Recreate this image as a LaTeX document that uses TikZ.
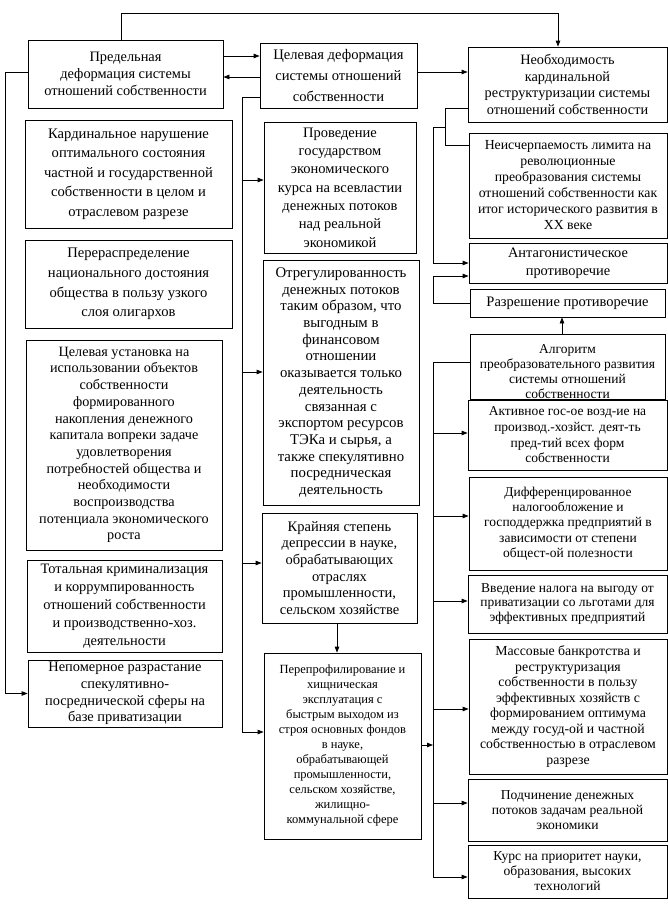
\documentclass[tikz,border=0pt]{standalone}
\usepackage{fontspec}
\setmainfont{Liberation Serif}
\usetikzlibrary{arrows,arrows.meta,calc,positioning}
\begin{document}
\begin{tikzpicture}[x=1pt,y=-1pt,line width=0.8pt,>={Triangle[length=6pt,width=4.5pt]},
    blk/.style={draw,align=center,inner sep=1pt},
    fs/.style 2 args={font=\fontsize{#1}{#2}\selectfont}]
                \useasboundingbox (0,0) rectangle (668,913);
                \node[blk,fs={14.4}{16.7},minimum width=195,minimum height=68] (pred) at (125.5,74) {Предельная\\деформация системы\\отношений собственности};
                \node[blk,fs={14.6}{21},minimum width=157,minimum height=65] (cel) at (338.5,75.5) {Целевая деформация\\системы отношений\\собственности};
                \node[blk,fs={14.3}{16.7},minimum width=199,minimum height=75] (neob) at (567.5,84.5) {Необходимость\\кардинальной\\реструктуризации системы\\отношений собственности};
                \node[blk,fs={14.6}{19.5},minimum width=207,minimum height=108] (kard) at (128.5,174) {Кардинальное нарушение\\оптимального состояния\\частной и государственной\\собственности в целом и\\отраслевом разрезе};
                \node[blk,fs={14.6}{19.8},minimum width=207,minimum height=88] (pereras) at (128.5,284) {Перераспределение\\национального достояния\\общества в пользу узкого\\слоя олигархов};
                \node[blk,fs={14.2}{16.7},minimum width=196,minimum height=210] (ust) at (124,445) {Целевая установка на\\использовании объектов\\собственности\\формированного\\накопления денежного\\капитала вопреки задаче\\удовлетворения\\потребностей общества и\\необходимости\\воспроизводства\\потенциала экономического\\роста};
                \node[blk,fs={14.4}{18},minimum width=195,minimum height=92] (krim) at (124.5,606) {Тотальная криминализация\\и коррумпированность\\отношений собственности\\и производственно-хоз.\\деятельности};
                \node[blk,fs={14.4}{16.7},minimum width=194,minimum height=67] (nepom) at (125,693.5) {Непомерное разрастание\\спекулятивно-\\посреднической сферы на\\базе приватизации};
                \node[blk,fs={14.5}{18.3},minimum width=152,minimum height=131] (provod) at (340,187.5) {Проведение\\государством\\экономического\\курса на всевластии\\денежных потоков\\над реальной\\экономикой};
                \node[blk,fs={14.8}{16.7},minimum width=156,minimum height=245] (otreg) at (341,382.5) {Отрегулированность\\денежных потоков\\таким образом, что\\выгодным в\\финансовом\\отношении\\оказывается только\\деятельность\\связанная с\\экспортом ресурсов\\ТЭКа и сырья, а\\также спекулятивно\\посредническая\\деятельность};
                \node[blk,fs={14.5}{16.7},minimum width=155,minimum height=110] (krain) at (339.5,568) {Крайняя степень\\депрессии в науке,\\обрабатывающих\\отраслях\\промышленности,\\сельском хозяйстве};
                \node[blk,fs={12.5}{15},minimum width=157,minimum height=186] (perepr) at (342.5,746) {Перепрофилирование и\\хищническая\\эксплуатация с\\быстрым выходом из\\строя основных фондов\\в науке,\\обрабатывающей\\промышленности,\\сельском хозяйстве,\\жилищно-\\коммунальной сфере};
                \node[blk,fs={13.8}{16},minimum width=198,minimum height=105] (neisch) at (568,185.5) {Неисчерпаемость лимита на\\революционные\\преобразования системы\\отношений собственности как\\итог исторического развития в\\ХХ веке};
                \node[blk,fs={14.4}{18},minimum width=198,minimum height=40] (antag) at (568,263) {Антагонистическое\\противоречие};
                \node[blk,fs={14.5}{16},minimum width=195,minimum height=28] (razr) at (567.5,303) {Разрешение противоречие};
                \node[blk,fs={13.5}{15},minimum width=195,text height=63,text depth=-15,anchor=north] (algo) at (567.5,334) {Алгоритм\\преобразовательного развития\\системы отношений\\собственности};
                \node[blk,fs={13.5}{15.7},minimum width=199,minimum height=70] (activ) at (567.5,435) {Активное гос-ое возд-ие на\\производ.-хозйст. деят-ть\\пред-тий всех форм\\собственности};
                \node[blk,fs={13.5}{15.3},minimum width=198,minimum height=93] (diff) at (568,523.5) {Дифференцированное\\налогообложение и\\господдержка предприятий в\\зависимости от степени\\общест-ой полезности};
                \node[blk,fs={13.5}{14.8},minimum width=199,minimum height=58] (vved) at (567.5,604) {Введение налога на выгоду от\\приватизации со льготами для\\эффективных предприятий};
                \node[blk,fs={13.8}{15.5},minimum width=198,minimum height=135] (mass) at (568,706.5) {Массовые банкротства и\\реструктуризация\\собственности в пользу\\эффективных хозяйств с\\формированием оптимума\\между госуд-ой и частной\\собственностью в отраслевом\\разрезе};
                \node[blk,fs={13.6}{15.3},minimum width=199,minimum height=62] (podch) at (567.5,810) {Подчинение денежных\\потоков задачам реальной\\экономики};
                \node[blk,fs={13.6}{15},minimum width=199,minimum height=53] (kurs) at (567.5,871.5) {Курс на приоритет науки,\\образования, высоких\\технологий};
                \coordinate (top) at (121,13);
                \coordinate (lefttrunk) at (5,72);
                \coordinate (midtrunk) at (242,97);
                \coordinate (righttrunk) at (433,362);
                \coordinate (bend) at (445,108);
                \draw[->] (pred.north -| top) -- (top) -| ([xshift=-9.5]neob.north);
                \draw[->] (pred.east |- 0,56) -- (cel.west |- 0,56);
                \draw[->] (cel.west |- 0,77) -- (pred.east |- 0,77);
                \draw[->] (cel.east |- 0,72) -- (neob.west |- 0,72);
                \draw[->] (pred.west |- lefttrunk) -- (lefttrunk) |- (nepom.west);
                \draw (cel.west |- midtrunk) -- (midtrunk) -- (midtrunk |- 0,732);
                \foreach \n/\y in {provod/180,otreg/372,krain/563,perepr/732}
                    \draw[->] (midtrunk |- 0,\y) -- (\n.west |- 0,\y);
                \draw[->] (krain.south -| 337,0) -- (perepr.north -| 337,0);
                \draw[->] (perepr.east |- 0,745) -- (righttrunk |- 0,745);
                \draw (algo.west |- righttrunk) -- (righttrunk) -- (righttrunk |- 0,877);
                \foreach \n/\y in {activ/433,diff/516,vved/601,mass/709,podch/803,kurs/877}
                    \draw[->] (righttrunk |- 0,\y) -- (\n.west |- 0,\y);
                \draw (neob.west |- bend) -- (bend) |- (neisch.west |- 0,145);
                \draw[->] (bend |- 0,127) -- (433,127) |- (antag.west |- 0,263);
                \draw[->] (razr.west) -- (433,303) |- (antag.west |- 0,276);
                \draw[->] (algo.north -| 562,0) -- (razr.south -| 562,0);
\end{tikzpicture}
\end{document}
